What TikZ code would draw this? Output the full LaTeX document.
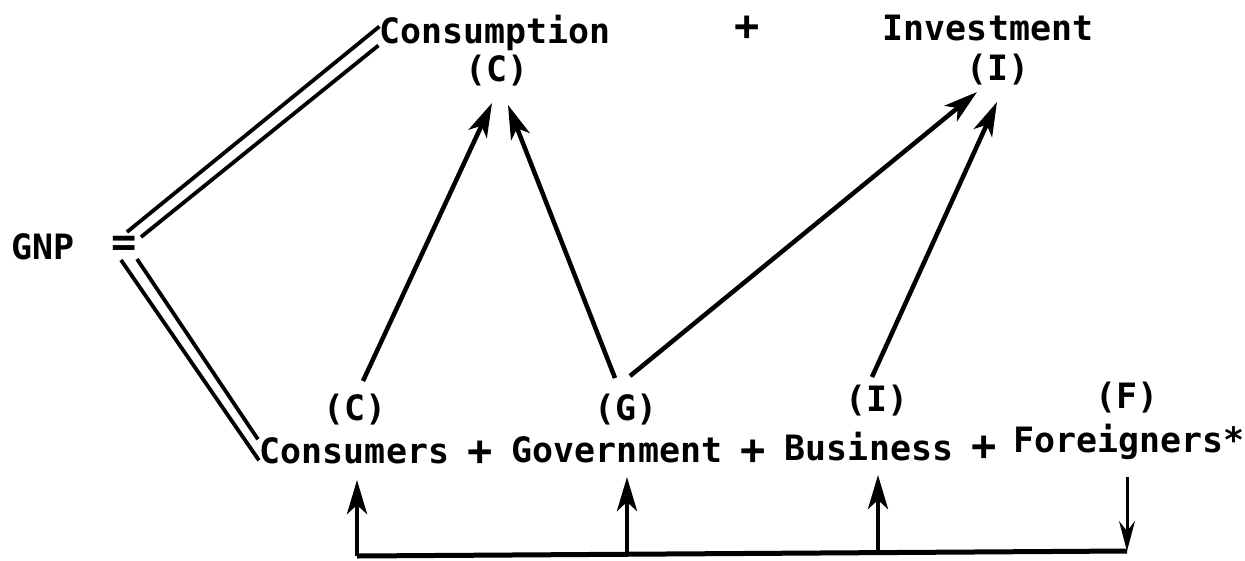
\documentclass[tikz,border=0pt]{standalone}
\usepackage{fontspec}
\setmainfont{DejaVu Sans Mono}
\usetikzlibrary{arrows.meta,calc}
\begin{document}
\begin{tikzpicture}[x=1pt,y=-1pt,
  txt/.style={font=\fontsize{34.9}{40}\selectfont\bfseries, inner sep=0pt, outer sep=0pt},
  plus/.style={font=\fontsize{42}{44}\selectfont\bfseries, inner sep=0pt, outer sep=0pt},
  arr/.style={line width=4.5pt, -{Stealth[length=34pt,width=20pt,inset=9pt]}},
  thinarr/.style={line width=3pt, -{Stealth[length=30pt,width=16pt,inset=10pt]}},
  dbl/.style={line width=3.8pt},
  baseline/.style={line width=5pt}]
\useasboundingbox[fill=white] (0,0) rectangle (1245,560);

% top row
\node[txt,anchor=base] (constop) at (495,43) {Consumption};
\node[plus] (plustop) at (747,28) {+};
\node[txt,anchor=base] (inv) at (988,40) {Investment};
\node[txt] (ct) at (497,71) {(C)};
\node[txt] (it) at (998,70) {(I)};

% left
\node[txt,anchor=base] (gnp) at (43,259) {GNP};
\node[plus] (eq) at (124,246) {=};

% bottom row
\node[txt,anchor=base] (consumers) at (354.5,463) {Consumers};
\node[plus] (p1) at (480.5,453) {+};
\node[txt,anchor=base] (gov) at (617,462) {Government};
\node[plus] (p2) at (753.5,452) {+};
\node[txt,anchor=base] (bus) at (869,460) {Business};
\node[plus] (p3) at (984.5,448) {+};
\node[txt,anchor=base] (for) at (1129,452) {Foreigners*};

\node[txt] (cb) at (355,410) {(C)};
\node[txt] (gb) at (626,410) {(G)};
\node[txt] (ib) at (877,401) {(I)};
\node[txt] (fb) at (1127,398) {(F)};

% double lines from "="
\draw[dbl] ($(eq)+(3,-14)$) -- ($(constop.west)+(0,-6)$);
\draw[dbl] ($(eq)+(17,-9)$) -- ($(constop.west)+(-1,13)$);
\draw[dbl] ($(eq)+(-3,14)$) -- ($(consumers.west)+(-1,10)$);
\draw[dbl] ($(eq)+(13,13)$) -- ($(consumers.west)+(-2,-11)$);

% upward arrows to the top row
\draw[arr] ($(cb)+(8,-29)$) -- ($(ct)+(-5,32)$);
\draw[arr] ($(gb)+(-11,-32)$) -- ($(ct)+(11,34)$);
\draw[arr] ($(gb)+(4,-34)$) -- ($(it)+(-21,22)$);
\draw[arr] ($(ib)+(-5,-24)$) -- ($(it)+(-1,32)$);

% bottom circuit
\coordinate (jc) at (357,556);
\coordinate (jg) at (627,553);
\coordinate (jb) at (878,552);
\coordinate (jf) at (1127,551);
\draw[baseline] (jc) -- (jf);
\draw[arr] (jc) -- ($(consumers.base)+(2.5,17)$);
\draw[arr] (jg) -- ($(gov.base)+(10,15)$);
\draw[arr] (jb) -- ($(bus.base)+(9,15)$);
\draw[thinarr] ($(for.base)+(-2,25)$) -- (jf);
\end{tikzpicture}
\end{document}
